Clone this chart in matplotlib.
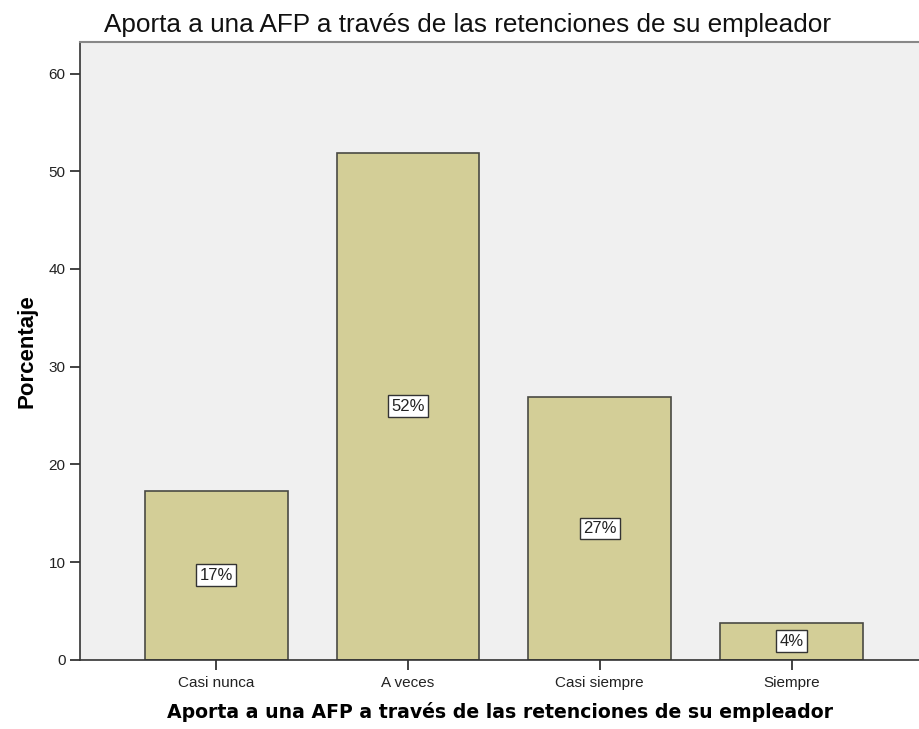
import matplotlib
matplotlib.use("Agg")
import matplotlib.pyplot as plt
from matplotlib import font_manager

# Respuestas y porcentajes
categorias = ["Casi nunca", "A veces", "Casi siempre", "Siempre"]
porcentajes = [17.3, 51.9, 26.9, 3.8]
y_ticks = [0, 10, 20, 30, 40, 50, 60]

TITULO = "Aporta a una AFP a través de las retenciones de su empleador"

plt.rcParams["font.family"] = ["Liberation Sans", "DejaVu Sans"]

# fuente estrecha para el título, si está disponible
try:
    font_manager.findfont("Liberation Sans Narrow", fallback_to_default=False)
    fuente_titulo, talla_titulo = "Liberation Sans Narrow", 20
except ValueError:
    fuente_titulo, talla_titulo = "Liberation Sans", 18.8

fig = plt.figure(figsize=(9.2, 7.29), dpi=100)
ax = fig.add_axes([0.087, 0.095, 0.913, 0.847])
ax.set_facecolor("#f0f0f0")

x = range(len(categorias))
ax.bar(x, porcentajes, width=0.745, color="#d3ce97", edgecolor="#4a4a44",
       linewidth=1.2, zorder=2)

# etiquetas de porcentaje en el centro de cada barra
for i, v in zip(x, porcentajes):
    ax.text(i, v / 2, f"{v:.0f}%", ha="center", va="center", fontsize=12,
            color="#222222", zorder=3,
            bbox=dict(boxstyle="square,pad=0.2", fc="white", ec="#333333", lw=1))

ax.set_xlim(-0.71, 3.67)
ax.set_ylim(0, 63.2)
ax.set_xticks(list(x))
ax.set_xticklabels(categorias, fontsize=11)
ax.set_yticks(y_ticks)
ax.tick_params(axis="y", labelsize=11, length=7, width=1.2, colors="#222222")
ax.tick_params(axis="x", length=7, width=1.2, colors="#222222", pad=5)

ax.spines["right"].set_visible(False)
ax.spines["top"].set_color("#888888")
ax.spines["top"].set_linewidth(1.5)
for side in ["left", "bottom"]:
    ax.spines[side].set_linewidth(1.2)
    ax.spines[side].set_color("#333333")

ax.set_ylabel("Porcentaje", fontsize=16, fontweight="bold", labelpad=8)
ax.set_xlabel(TITULO, fontsize=13.6, fontweight="bold",
              family=["DejaVu Sans"], labelpad=8)
fig.text(0.508, 0.966, TITULO, ha="center", va="center", fontsize=talla_titulo,
         family=[fuente_titulo], color="#111111")

fig.savefig("out.png", dpi=100)
